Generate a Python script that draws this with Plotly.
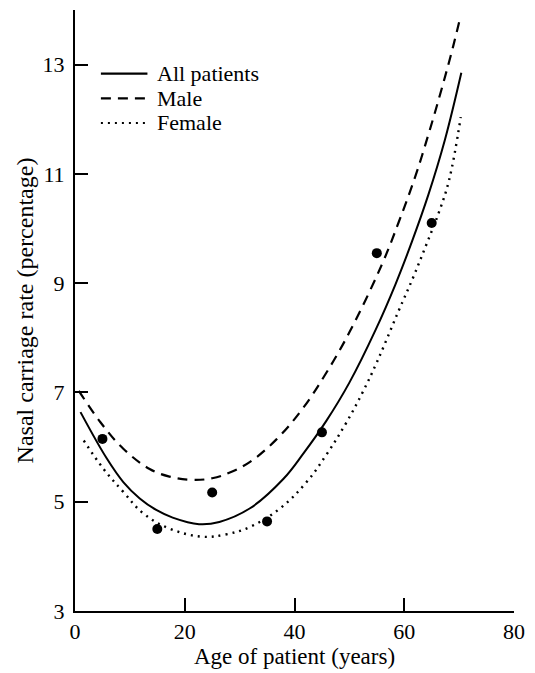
import plotly.graph_objects as go

# Observed mean carriage rate by age group
age_points = [5, 15, 25, 35, 45, 55, 65]
rate_points = [6.15, 4.50, 5.17, 4.64, 6.27, 9.55, 10.10]

# Fitted curves
all_x = [1.0, 5.8, 8.8, 11.8, 14.8, 17.8, 22.6, 26.3, 31.9, 38.0, 41.6, 45.8, 50.0, 54.8, 58.4, 61.4, 64.4, 67.4, 70.4]
all_y = [6.64, 5.79, 5.36, 5.06, 4.85, 4.71, 4.59, 4.63, 4.88, 5.42, 5.88, 6.48, 7.18, 8.15, 8.98, 9.76, 10.62, 11.62, 12.85]

male_x = [0.7, 4.6, 8.8, 13.6, 17.2, 21.4, 25.0, 28.1, 31.9, 36.8, 41.6, 45.8, 50.0, 56.0, 59.0, 62.0, 64.4, 66.8, 68.9, 70.1]
male_y = [7.03, 6.46, 5.97, 5.60, 5.46, 5.40, 5.43, 5.53, 5.73, 6.15, 6.72, 7.36, 8.10, 9.36, 10.12, 10.95, 11.72, 12.55, 13.33, 13.82]

female_x = [1.6, 5.2, 8.8, 12.4, 17.2, 23.2, 27.4, 31.9, 37.4, 42.2, 45.8, 49.4, 52.4, 55.0, 59.0, 61.6, 64.0, 66.4, 68.2, 70.3]
female_y = [6.12, 5.60, 5.18, 4.79, 4.51, 4.36, 4.40, 4.54, 4.88, 5.36, 5.86, 6.44, 7.00, 7.55, 8.50, 9.10, 9.70, 10.32, 10.90, 12.04]

x_ticks = [0, 20, 40, 60, 80]
y_ticks = [3, 5, 7, 9, 11, 13]

FONT = "Liberation Serif"
DASH = "10px,7px"
DOT = "2px,5px"

fig = go.Figure()
fig.add_trace(go.Scatter(x=all_x, y=all_y, mode="lines", line=dict(color="black", width=2, shape="spline", smoothing=1.1), showlegend=False))
fig.add_trace(go.Scatter(x=male_x, y=male_y, mode="lines", line=dict(color="black", width=2.2, dash=DASH, shape="spline", smoothing=1.1), showlegend=False))
fig.add_trace(go.Scatter(x=female_x, y=female_y, mode="lines", line=dict(color="black", width=2.4, dash=DOT, shape="spline", smoothing=1.1), showlegend=False))
fig.add_trace(go.Scatter(x=age_points, y=rate_points, mode="markers", marker=dict(color="black", size=10), showlegend=False))

# Hand-drawn style legend
legend_items = [("All patients", "solid", 0.894), ("Male", DASH, 0.853), ("Female", DOT, 0.812)]
for label, dash, yp in legend_items:
    fig.add_shape(type="line", xref="paper", yref="paper", x0=0.059, x1=0.165, y0=yp, y1=yp,
                  line=dict(color="black", width=2.2, dash=dash))
    fig.add_annotation(xref="paper", yref="paper", x=0.183, y=yp, text=label, showarrow=False,
                       xanchor="left", yanchor="middle", font=dict(family=FONT, size=22, color="black"))

fig.update_layout(
    width=535, height=673,
    margin=dict(l=75, r=19, t=10, b=60),
    paper_bgcolor="white", plot_bgcolor="white",
    font=dict(family=FONT, size=22, color="black"),
)
fig.update_xaxes(range=[0, 80], tickvals=x_ticks, ticktext=[str(v) for v in x_ticks],
                 showline=True, linecolor="black", linewidth=2, showgrid=False, zeroline=False,
                 ticks="inside", ticklen=13, tickwidth=2, tickcolor="black",
                 title=dict(text="Age of patient (years)", font=dict(family=FONT, size=23), standoff=2),
                 tickfont=dict(family=FONT, size=22))
fig.update_yaxes(range=[3, 14], tickvals=y_ticks, ticktext=[str(v) for v in y_ticks],
                 showline=True, linecolor="black", linewidth=2, showgrid=False, zeroline=False,
                 ticks="inside", ticklen=13, tickwidth=2, tickcolor="black", ticklabelstandoff=4,
                 title=dict(text="Nasal carriage rate (percentage)", font=dict(family=FONT, size=24), standoff=2),
                 tickfont=dict(family=FONT, size=22))

fig.write_html("out.html")
